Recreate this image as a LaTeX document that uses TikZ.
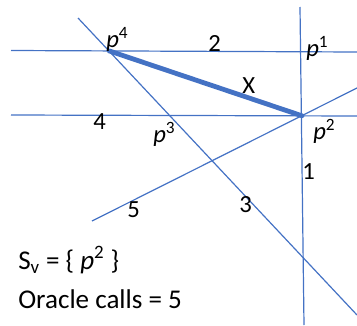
\documentclass[tikz,border=0pt]{standalone}
\usepackage{fontspec}
\setmainfont{Carlito}
\usepackage{xcolor}
\definecolor{lineblue}{HTML}{4472C4}
\tikzset{
  ln/.style={draw=lineblue, line width=0.9pt},
  seg/.style={draw=lineblue, line width=3.6pt, line cap=round},
  lbl/.style={font=\fontsize{18.5}{21}\selectfont, text=black, inner sep=0pt, anchor=base west},
  info/.style={font=\fontsize{20.3}{24}\selectfont, text=black, inner sep=0pt, anchor=base west}
}
\newcommand{\pt}[1]{{\itshape p}\textsuperscript{#1}}
\begin{document}
\begin{tikzpicture}[x=0.75pt, y=-0.75pt]
\useasboundingbox (0,0) rectangle (357,325);
% end points of the five lines
\coordinate (a2) at (11,50.5);   \coordinate (b2) at (357,52);
\coordinate (a4) at (11,115);    \coordinate (b4) at (357,116);
\coordinate (a1) at (300,7);     \coordinate (b1) at (304,325);
\coordinate (a3) at (78,18);     \coordinate (b3) at (357,315);
\coordinate (a5) at (92,221);    \coordinate (b5) at (357,88);
% vertices
\coordinate (P4) at (109.2,50.9);
\coordinate (P2) at (302,115.8);
\draw[ln] (a2) -- (b2);
\draw[ln] (a4) -- (b4);
\draw[ln] (a1) -- (b1);
\draw[ln] (a3) -- (b3);
\draw[ln] (a5) -- (b5);
\draw[seg] (P4) -- (P2);
% labels
\node[lbl] (lp4) at (106,47) {\pt{4}};
\node[lbl] (l2) at (208,51) {2};
\node[lbl] (lp1) at (306,56) {\pt{1}};
\node[lbl] (lx) at (242,93) {X};
\node[lbl] (l4) at (93,129) {4};
\node[lbl] (lp3) at (153,142) {\pt{3}};
\node[lbl] (lp2) at (313,139) {\pt{2}};
\node[lbl] (l1) at (302,179) {1};
\node[lbl] (l5) at (127,217) {5};
\node[lbl] (l3) at (239,212) {3};
\node[info] (sv) at (18,269) {S\textsubscript{v} = \{ \pt{2} \}};
\node[info] (calls) at (18,308) {Oracle calls = 5};
\end{tikzpicture}
\end{document}
